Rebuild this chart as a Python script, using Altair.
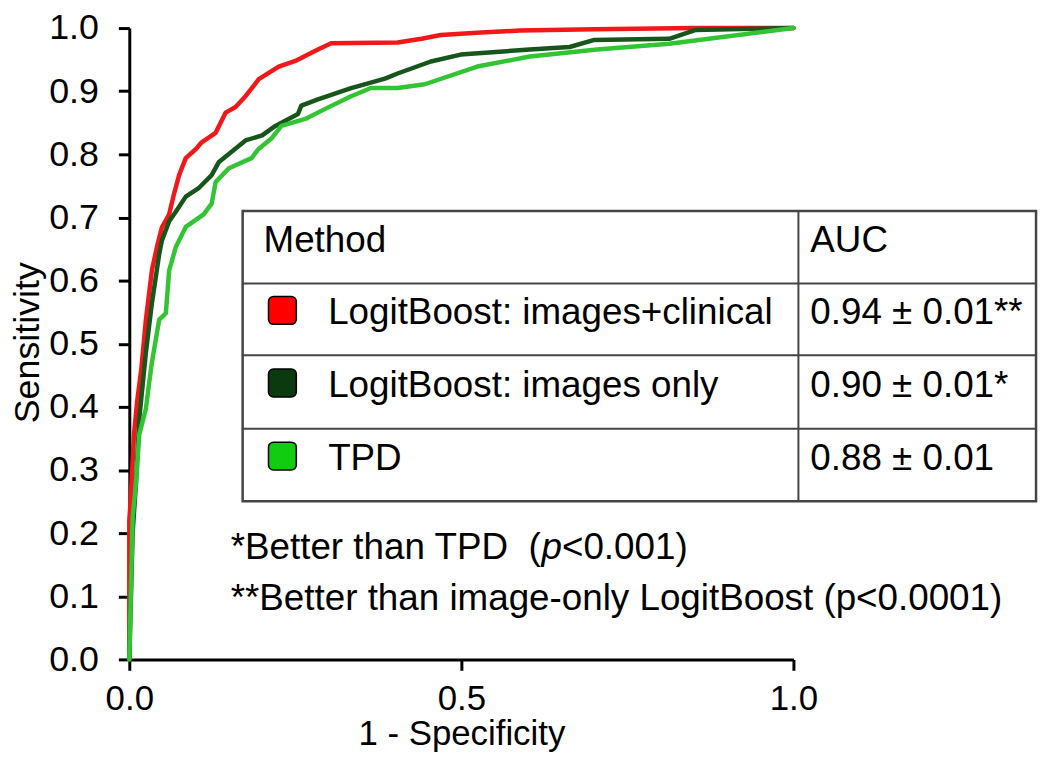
import altair as alt
import pandas as pd

# ---------------- data ----------------
series_names = ["LogitBoost: images+clinical", "LogitBoost: images only", "TPD"]
auc_labels = ["0.94 \u00b1 0.01**", "0.90 \u00b1 0.01*", "0.88 \u00b1 0.01"]
header_labels = ["Method", "AUC"]
footnote_1 = ["*Better than TPD\u00a0 (", "p", "<0.001)"]
footnote_2 = "**Better than image-only LogitBoost (p<0.0001)"

red_fpr = [0.0, 0.0, 0.002, 0.007, 0.012, 0.018, 0.025, 0.034, 0.042, 0.049, 0.060, 0.067,
           0.075, 0.085, 0.100, 0.109, 0.130, 0.145, 0.160, 0.175, 0.195, 0.225, 0.250, 0.284,
           0.304, 0.404, 0.440, 0.469, 0.530, 0.588, 0.700, 0.853, 1.0]
red_tpr = [0.0, 0.22, 0.25, 0.356, 0.41, 0.459, 0.538, 0.616, 0.655, 0.684, 0.705, 0.736,
           0.767, 0.794, 0.808, 0.819, 0.834, 0.866, 0.875, 0.892, 0.919, 0.939, 0.948, 0.966,
           0.976, 0.977, 0.983, 0.989, 0.993, 0.996, 0.998, 1.0, 1.0]

dark_fpr = [0.0, 0.005, 0.010, 0.015, 0.025, 0.034, 0.045, 0.049, 0.060, 0.064, 0.070, 0.085,
            0.105, 0.124, 0.135, 0.155, 0.175, 0.200, 0.220, 0.254, 0.259, 0.284, 0.334, 0.385,
            0.404, 0.454, 0.499, 0.603, 0.663, 0.699, 0.813, 0.853, 1.0]
dark_tpr = [0.0, 0.20, 0.278, 0.381, 0.486, 0.564, 0.642, 0.663, 0.694, 0.700, 0.709, 0.733,
            0.747, 0.767, 0.788, 0.805, 0.822, 0.830, 0.845, 0.864, 0.877, 0.887, 0.905, 0.920,
            0.928, 0.947, 0.958, 0.966, 0.970, 0.981, 0.983, 0.997, 1.0]

tpd_fpr = [0.0, 0.005, 0.010, 0.015, 0.025, 0.030, 0.034, 0.045, 0.055, 0.060, 0.070, 0.085,
           0.112, 0.124, 0.130, 0.150, 0.184, 0.195, 0.214, 0.229, 0.265, 0.295, 0.334, 0.364,
           0.404, 0.445, 0.524, 0.603, 0.704, 0.813, 1.0]
tpd_tpr = [0.0, 0.225, 0.278, 0.356, 0.397, 0.439, 0.470, 0.538, 0.548, 0.616, 0.653, 0.685,
           0.705, 0.722, 0.756, 0.778, 0.794, 0.809, 0.825, 0.845, 0.856, 0.872, 0.892, 0.905,
           0.905, 0.911, 0.939, 0.955, 0.966, 0.975, 1.0]

x_ticks = [0.0, 0.5, 1.0]
y_ticks = [0.0, 0.1, 0.2, 0.3, 0.4, 0.5, 0.6, 0.7, 0.8, 0.9, 1.0]

# ---------------- styling / layout ----------------
FONT = "Liberation Sans"
W, H = 668, 635
TOP = 18
line_colors = ["#f01818", "#17561b", "#33c433"]
swatch_colors = ["#ff0000", "#0b3a0e", "#12cc12"]
TABLE_STROKE = "#454545"

xscale = alt.Scale(domain=[0, 1], nice=False, zero=False)
yscale = alt.Scale(domain=[0, 1], nice=False, zero=False)

common_axis = dict(grid=False, domainColor="black", domainWidth=3, tickColor="black",
                   tickWidth=3, tickSize=11, labelColor="black",
                   labelFont=FONT, titleFont=FONT, titleFontWeight="normal",
                   titleColor="black", format=".1f", labelFlush=False, labelOverlap=False)
xaxis = alt.Axis(values=x_ticks, title="1 - Specificity", labelPadding=11,
                 labelFontSize=35, titleFontSize=35,
                 titleY=58, titleBaseline="top", **common_axis)
yaxis = alt.Axis(values=y_ticks, title="Sensitivity", labelPadding=20,
                 labelFontSize=36, titleFontSize=36,
                 titleAngle=270, titleX=-102, titleY=316, titleAlign="center",
                 titleBaseline="middle", **common_axis)

Y_SHIFT = (21 - 8) - TOP


def dx(px):
    return px / W


def dy(py):
    return 1 - (py + Y_SHIFT) / H


def X(field):
    return alt.X(field, type="quantitative", scale=xscale, axis=xaxis)


def Y(field):
    return alt.Y(field, type="quantitative", scale=yscale, axis=yaxis)


# ROC curves
layers = []
for fpr, tpr, col in [(red_fpr, red_tpr, line_colors[0]),
                      (dark_fpr, dark_tpr, line_colors[1]),
                      (tpd_fpr, tpd_tpr, line_colors[2])]:
    df = pd.DataFrame({"x": fpr, "y": tpr, "i": list(range(len(fpr)))})
    layers.append(
        alt.Chart(df).mark_line(color=col, strokeWidth=4.5, strokeJoin="round",
                                strokeCap="round").encode(
            x=X("x"), y=Y("y"), order=alt.Order("i:Q"))
    )

# Table geometry (pixels relative to reference plot origin)
T_L, T_R, T_DIV = 114, 912, 673
ROWS = [189, 262, 334, 408, 481]
row_c = [(ROWS[k] + ROWS[k + 1]) / 2 for k in range(4)]

box = pd.DataFrame({"x": [dx(T_L)], "x2": [dx(T_R)], "y": [dy(ROWS[0])], "y2": [dy(ROWS[-1])]})
layers.append(
    alt.Chart(box).mark_rect(fill="white", stroke=TABLE_STROKE, strokeWidth=2.5).encode(
        x=X("x"), x2="x2", y=Y("y"), y2="y2")
)
rules = pd.DataFrame({
    "x": [dx(T_L)] * 3 + [dx(T_DIV)],
    "x2": [dx(T_R)] * 3 + [dx(T_DIV)],
    "y": [dy(ROWS[1]), dy(ROWS[2]), dy(ROWS[3]), dy(ROWS[0])],
    "y2": [dy(ROWS[1]), dy(ROWS[2]), dy(ROWS[3]), dy(ROWS[-1])],
})
layers.append(
    alt.Chart(rules).mark_rule(color=TABLE_STROKE, strokeWidth=2).encode(
        x=X("x"), x2="x2", y=Y("y"), y2="y2")
)

# swatches
SW_CX, SW = 154, 28
sw = pd.DataFrame({
    "x": [dx(SW_CX - SW / 2)] * 3, "x2": [dx(SW_CX + SW / 2)] * 3,
    "y": [dy(row_c[k + 1] - 9 - SW / 2) for k in range(3)],
    "y2": [dy(row_c[k + 1] - 9 + SW / 2) for k in range(3)],
    "name": series_names,
})
layers.append(
    alt.Chart(sw).mark_rect(stroke="black", strokeWidth=1.5, cornerRadius=5).encode(
        x=X("x"), x2="x2", y=Y("y"), y2="y2",
        fill=alt.Fill("name:N", scale=alt.Scale(domain=series_names, range=swatch_colors),
                      legend=None))
)

# table texts
texts = pd.DataFrame({
    "x": [dx(135), dx(685)] + [dx(200)] * 3 + [dx(685)] * 3,
    "y": [dy(row_c[0] - 6)] * 2 + [dy(row_c[k + 1] - 6) for k in range(3)] * 2,
    "t": header_labels + series_names + auc_labels,
})
layers.append(
    alt.Chart(texts).mark_text(align="left", baseline="middle", font=FONT, fontSize=37,
                               color="black").encode(x=X("x"), y=Y("y"), text="t:N")
)

# footnotes
FN_X, FN_Y1, FN_Y2 = 102, 528, 579
FS = 37
w1 = 8.448 * FS
wp = 0.556 * FS
fn = pd.DataFrame({
    "x": [dx(FN_X), dx(FN_X + w1 + wp), dx(FN_X)],
    "y": [dy(FN_Y1), dy(FN_Y1), dy(FN_Y2)],
    "t": [footnote_1[0], footnote_1[2], footnote_2],
})
layers.append(
    alt.Chart(fn).mark_text(align="left", baseline="middle", font=FONT, fontSize=FS,
                            color="black").encode(x=X("x"), y=Y("y"), text="t:N")
)
fnp = pd.DataFrame({"x": [dx(FN_X + w1)], "y": [dy(FN_Y1)], "t": [footnote_1[1]]})
layers.append(
    alt.Chart(fnp).mark_text(align="left", baseline="middle", font=FONT, fontSize=FS,
                             fontStyle="italic", color="black").encode(
        x=X("x"), y=Y("y"), text="t:N")
)

chart = alt.layer(*layers).properties(
    width=W, height=H,
    autosize=alt.AutoSizeParams(type="none"),
    padding={"left": 122, "top": TOP, "right": 250, "bottom": 97},
    background="white",
).configure_view(stroke="transparent", strokeWidth=0)

chart.save("out.html", embed_options={"renderer": "svg", "actions": False})
